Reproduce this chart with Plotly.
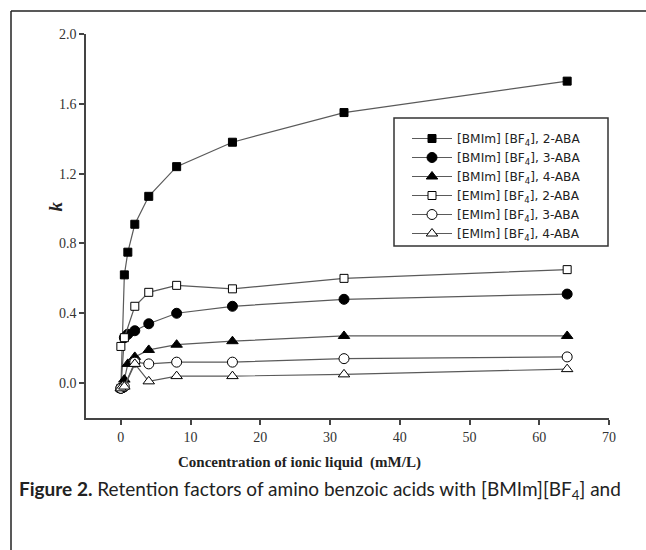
import plotly.graph_objects as go

x_bmim = [0, 0.5, 1, 2, 4, 8, 16, 32, 64]
x_emim = [0, 0.5, 2, 4, 8, 16, 32, 64]

bmim_2aba = [-0.03, 0.62, 0.75, 0.91, 1.07, 1.24, 1.38, 1.55, 1.73]
bmim_3aba = [-0.03, 0.26, 0.28, 0.30, 0.34, 0.40, 0.44, 0.48, 0.51]
bmim_4aba = [-0.03, 0.02, 0.11, 0.15, 0.19, 0.22, 0.24, 0.27, 0.27]
emim_2aba = [0.21, 0.26, 0.44, 0.52, 0.56, 0.54, 0.60, 0.65]
emim_3aba = [-0.03, -0.02, 0.12, 0.11, 0.12, 0.12, 0.14, 0.15]
emim_4aba = [-0.03, -0.02, 0.11, 0.01, 0.04, 0.04, 0.05, 0.08]

names = [
    "[BMIm] [BF<sub>4</sub>], 2-ABA",
    "[BMIm] [BF<sub>4</sub>], 3-ABA",
    "[BMIm] [BF<sub>4</sub>], 4-ABA",
    "[EMIm] [BF<sub>4</sub>], 2-ABA",
    "[EMIm] [BF<sub>4</sub>], 3-ABA",
    "[EMIm] [BF<sub>4</sub>], 4-ABA",
]
y_ticks = [0.0, 0.4, 0.8, 1.2, 1.6, 2.0]
x_ticks = [0, 10, 20, 30, 40, 50, 60, 70]

series = [
    (x_bmim, bmim_2aba, "square", "black", 8),
    (x_bmim, bmim_3aba, "circle", "black", 10),
    (x_bmim, bmim_4aba, "triangle-up", "black", 10),
    (x_emim, emim_2aba, "square", "white", 8),
    (x_emim, emim_3aba, "circle", "white", 10),
    (x_emim, emim_4aba, "triangle-up", "white", 10),
]

fig = go.Figure()
for (xs, ys, sym, fill, sz), nm in zip(series, names):
    fig.add_trace(go.Scatter(
        x=xs, y=ys, name=nm, mode="lines+markers",
        line=dict(color="#5a5a5a", width=1.2),
        marker=dict(symbol=sym, size=sz, color=fill,
                    line=dict(color="black", width=1)),
    ))

W, H = 646, 550
L, R, T, B = 86, 609, 34, 418
def px(xp):
    return (xp - L) / (R - L)
def py(yp):
    return (B - yp) / (B - T)

fig.update_layout(
    width=W, height=H,
    margin=dict(l=L, r=W - R, t=T, b=H - B),
    paper_bgcolor="white", plot_bgcolor="white",
    showlegend=True,
    legend=dict(
        x=px(407), y=py(124), xanchor="left", yanchor="top",
        borderwidth=0, bgcolor="rgba(0,0,0,0)",
        font=dict(family="DejaVu Sans, sans-serif", size=12.2, color="#222"),
        tracegroupgap=0, itemwidth=40,
    ),
    xaxis=dict(
        range=[-5, 70], tickvals=x_ticks, ticktext=[str(v) for v in x_ticks],
        showgrid=False, zeroline=False, showline=True, linecolor="#444", linewidth=1.5,
        ticks="outside", ticklen=5, tickwidth=1.5, tickcolor="#444",
        tickfont=dict(family="Liberation Serif, Times New Roman, serif", size=14, color="#333"),
    ),
    yaxis=dict(
        range=[-0.2, 2.0], tickvals=y_ticks, ticktext=["%.1f" % v for v in y_ticks],
        showgrid=False, zeroline=False, showline=True, linecolor="#444", linewidth=1.5,
        ticks="outside", ticklen=5, tickwidth=1.5, tickcolor="#444",
        tickfont=dict(family="Liberation Serif, Times New Roman, serif", size=14, color="#333"),
    ),
    shapes=[
        dict(type="line", xref="paper", yref="paper", x0=px(11), x1=px(646), y0=py(11), y1=py(11),
             line=dict(color="#222", width=1.5)),
        dict(type="line", xref="paper", yref="paper", x0=px(11), x1=px(11), y0=py(11), y1=py(550),
             line=dict(color="#222", width=1.5)),
        dict(type="rect", xref="paper", yref="paper", x0=px(394), x1=px(608), y0=py(118), y1=py(246),
             line=dict(color="#333", width=1.5), fillcolor="white", layer="below"),
    ],
    annotations=[
        dict(text="<b><i>k</i></b>", xref="paper", yref="paper", x=px(42), y=py(207),
             textangle=-90, showarrow=False,
             font=dict(family="Liberation Serif, Times New Roman, serif", size=19, color="#222")),
        dict(text="<b>Concentration of ionic liquid  (mM/L)</b>", xref="paper", yref="paper",
             x=px(299), y=py(462), xanchor="center", yanchor="middle", showarrow=False,
             font=dict(family="Liberation Serif, Times New Roman, serif", size=15, color="#222")),
        dict(text="<b>Figure 2.</b> Retention factors of amino benzoic acids with [BMIm][BF<sub>4</sub>] and",
             xref="paper", yref="paper", x=px(17), y=py(490), xanchor="left", yanchor="middle",
             showarrow=False,
             font=dict(family="Lato, sans-serif", size=19, color="#222")),
    ],
)

fig.write_html("out.html", config={"displayModeBar": False},
               post_script="document.body.style.margin='0';document.body.style.padding='0';")
